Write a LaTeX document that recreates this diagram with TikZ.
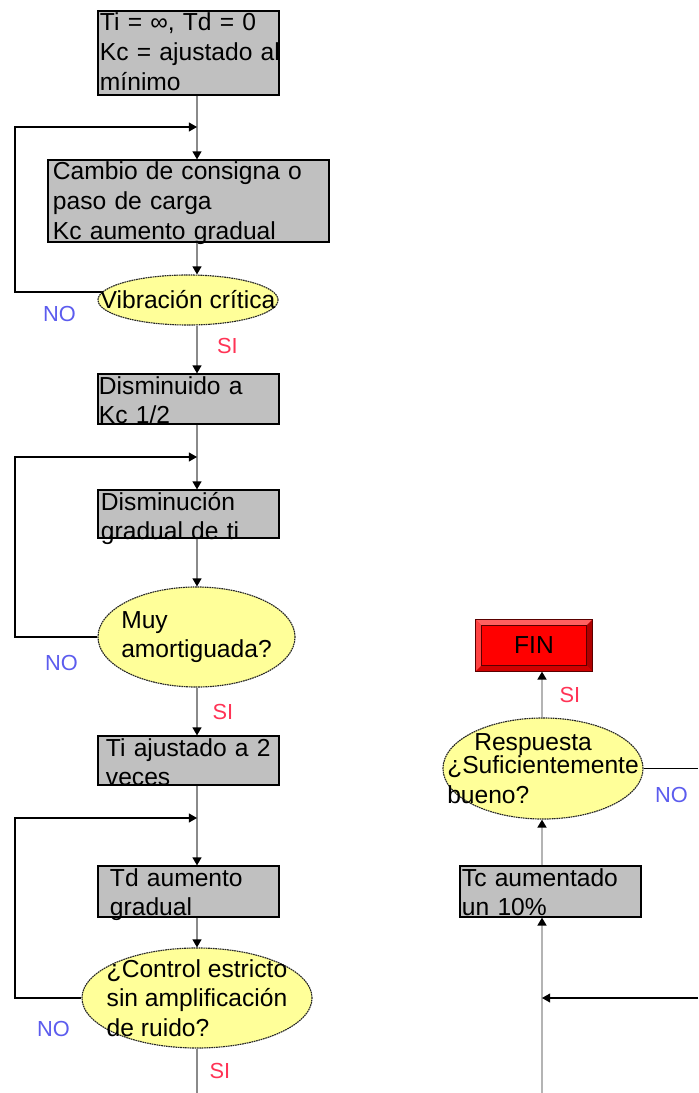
\documentclass[tikz,border=0pt]{standalone}
\usepackage{fontspec}
\setmainfont{Liberation Sans}
\usetikzlibrary{arrows.meta, shapes.geometric, calc}
\definecolor{cgray}{HTML}{C0C0C0}
\definecolor{cyellow}{HTML}{FFFF99}
\definecolor{cred}{HTML}{FF0000}
\definecolor{cbevl}{HTML}{FF6060}
\definecolor{cbevd}{HTML}{B00000}
\definecolor{cdark}{HTML}{5A0000}
\definecolor{cno}{HTML}{5C5CEE}
\definecolor{csi}{HTML}{FF3355}
\definecolor{cline}{HTML}{8A8A8A}
\definecolor{clight}{HTML}{B4B4B4}
\tikzset{
  every picture/.style={line width=0.8pt},
  box/.style={draw=black, fill=cgray, align=left, inner ysep=0pt, text height=0.5cm, font=\fontsize{17.5}{21}\selectfont},
  decision/.style={ellipse, draw=black!85, dash pattern=on 1.2pt off 0.5pt, fill=cyellow, inner xsep=-4cm, inner ysep=-3cm, align=left, font=\fontsize{17.5}{21}\selectfont},
  fin/.style={fill=cred, inner sep=0pt, minimum width=2.9cm, minimum height=1.275cm, font=\fontsize{17.5}{21}\selectfont},
  flow/.style={draw=cline, line width=1.1pt, -{Triangle[length=2mm, width=2.2mm, color=black]}},
  flowr/.style={flow, draw=clight, line width=1.6pt},
  plain/.style={draw=black, line width=0.8pt},
  loopback/.style={plain, -{Triangle[length=2mm, width=2.2mm]}},
  answer/.style={inner sep=0pt, font=\fontsize{15.5}{18}\selectfont},
}

\begin{document}
\begin{tikzpicture}[x=0.025cm, y=-0.025cm]
  \useasboundingbox (0,0) rectangle (698,1093);
  % rails of the two columns
  \coordinate (sp) at (197,0);
  \coordinate (rail) at (15,0);
  \coordinate (spr) at (542,0);
  \coordinate (j1) at (197,127);
  \coordinate (j2) at (197,457);
  \coordinate (j3) at (197,818);
  \coordinate (botL) at (197,1093);
  \coordinate (outR) at (698,768.5);
  \coordinate (inR) at (698,998);
  \coordinate (jR) at (542,998);
  \coordinate (botR) at (542,1093);

  % left column
  \node[box, text width=4.425cm, inner xsep=0.05cm, text depth=1.6cm] (ini) at (188.5,53) {Ti = ∞, Td = 0\\\mbox{Kc = ajustado al}\\mínimo};
  \node[box, text width=6.775cm, inner xsep=0.125cm, text depth=1.55cm] (cambio) at (188.5,201) {Cambio de consigna o\\paso de carga\\Kc aumento gradual};
  \node[decision, minimum width=4.5cm, minimum height=1.25cm] (vib) at (188,300) {Vibración crítica};
  \node[box, text width=4.475cm, inner xsep=0.025cm, text depth=0.75cm] (dism) at (188.5,399) {Disminuido a\\Kc 1/2};
  \node[box, text width=4.375cm, inner xsep=0.075cm, text depth=0.7cm] (gradti) at (188.5,514) {Disminución\\gradual de ti};
  \node[decision, minimum width=4.925cm, minimum height=2.5cm] (amort) at (196.5,637) {Muy\\amortiguada?};
  \node[box, text width=4.125cm, inner xsep=0.2cm, text depth=0.725cm] (tiaj) at (188.5,760.5) {Ti ajustado a 2\\veces};
  \node[box, text width=3.925cm, inner xsep=0.3cm, text depth=0.775cm] (tdaum) at (188.5,891.5) {Td aumento\\gradual};
  \node[decision, minimum width=5.75cm, minimum height=2.5cm] (ruido) at (197,998) {¿Control estricto\\sin amplificación\\de ruido?};

  % right column
  \node[fin] (finbox) at (534,645.5) {FIN};
  \fill[cbevl] (finbox.north west) -- (finbox.north east) -- ($(finbox.north east)+(-6,6)$) -- ($(finbox.north west)+(6,6)$) -- cycle;
  \fill[cbevl!70!cred] (finbox.north west) -- ($(finbox.north west)+(6,6)$) -- ($(finbox.south west)+(6,-6)$) -- (finbox.south west) -- cycle;
  \fill[cbevd] (finbox.north east) -- (finbox.south east) -- ($(finbox.south east)+(-6,-6)$) -- ($(finbox.north east)+(-6,6)$) -- cycle;
  \fill[cbevd!60!cred] (finbox.south west) -- (finbox.south east) -- ($(finbox.south east)+(-6,-6)$) -- ($(finbox.south west)+(6,-6)$) -- cycle;
  \draw[cdark, line width=0.7pt] (finbox.north west) rectangle (finbox.south east);
  \draw[cdark, line width=0.4pt] ($(finbox.north west)+(6,6)$) rectangle ($(finbox.south east)+(-6,-6)$);
  \node[decision, minimum width=5cm, minimum height=2.525cm] (resp) at (543,768.5) {\hspace*{0.675cm}Respuesta\\[-4.4pt]¿Suficientemente\\bueno?};
  \node[box, text width=4.425cm, inner xsep=0.05cm, text depth=0.775cm] (tcaum) at (550.5,891.5) {Tc aumentado\\un 10\%};

  % main flow
  \draw[flow] (ini.south -| sp) -- (cambio.north -| sp);
  \draw[flow] (cambio.south -| sp) -- (vib.north -| sp);
  \draw[flow] (vib.south -| sp) -- (dism.north -| sp);
  \draw[flow] (dism.south -| sp) -- (gradti.north -| sp);
  \draw[flow] (gradti.south -| sp) -- (amort.north -| sp);
  \draw[flow] (amort.south -| sp) -- (tiaj.north -| sp);
  \draw[flow] (tiaj.south -| sp) -- (tdaum.north -| sp);
  \draw[flow] (tdaum.south -| sp) -- (ruido.north -| sp);
  \draw[flow, -] (ruido.south -| sp) -- (botL);

  % loops back
  \coordinate (vibout) at ([xshift=1mm, yshift=2mm]vib.west);
  \draw[loopback] (vibout) -- (vibout -| rail) |- (j1);
  \draw[loopback] (amort.west) -- (amort.west -| rail) |- (j2);
  \draw[loopback] (ruido.west) -- (ruido.west -| rail) |- (j3);

  % right flow
  \draw[flowr] (botR) -- (tcaum.south -| spr);
  \draw[flowr] (tcaum.north -| spr) -- (resp.south -| spr);
  \draw[flowr] (resp.north -| spr) -- (finbox.south -| spr);
  \draw[plain] (resp.east) -- (outR);
  \draw[loopback] (inR) -- (jR);

  % answers
  \node[answer, text=cno] (no1) at (59.5,314) {NO};
  \node[answer, text=csi] (si1) at (227.5,346) {SI};
  \node[answer, text=cno] (no2) at (61.5,663) {NO};
  \node[answer, text=csi] (si2) at (223,712) {SI};
  \node[answer, text=cno] (no3) at (53.5,1029) {NO};
  \node[answer, text=csi] (si3) at (220,1071) {SI};
  \node[answer, text=csi] (si4) at (570,695) {SI};
  \node[answer, text=cno] (no4) at (671.5,795) {NO};
\end{tikzpicture}
\end{document}
